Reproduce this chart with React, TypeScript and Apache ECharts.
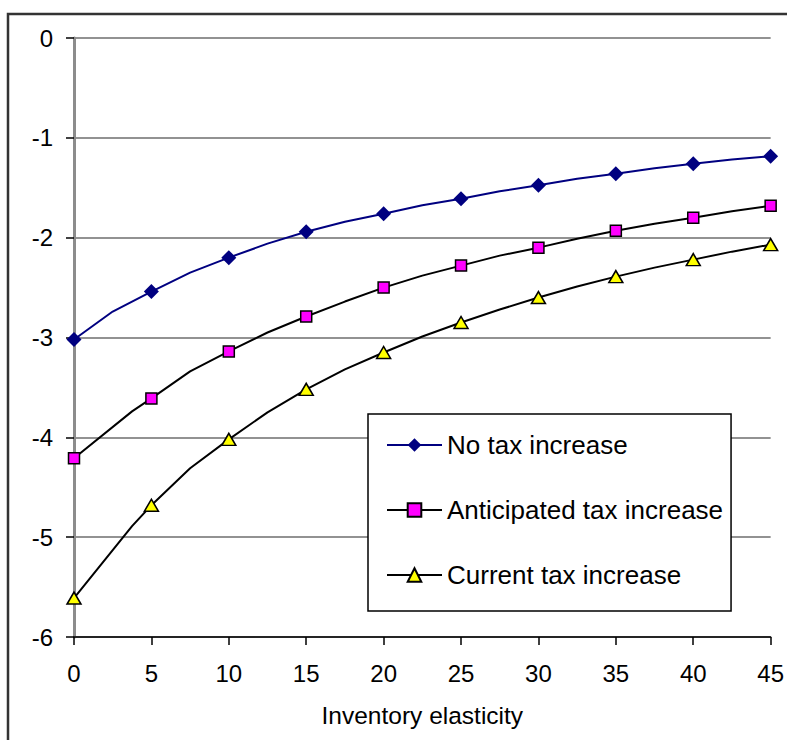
import React, { useEffect, useRef } from "react";
import * as echarts from "echarts";

// Inventory elasticity (x) at which markers are drawn
const elasticity = [0, 5, 10, 15, 20, 25, 30, 35, 40, 45];

// Series values at the marked points
const noTax = [-3.02, -2.54, -2.2, -1.94, -1.76, -1.61, -1.475, -1.36, -1.26, -1.185];
const anticipated = [-4.21, -3.61, -3.14, -2.79, -2.5, -2.28, -2.1, -1.93, -1.8, -1.68];
const current = [-5.61, -4.68, -4.02, -3.52, -3.15, -2.85, -2.6, -2.39, -2.22, -2.07];

// Unmarked intermediate points of each traced curve [x, y]
const noTaxBends = [
  [2.5, -2.74], [7.5, -2.35], [12.5, -2.06], [17.5, -1.84], [22.5, -1.675],
  [27.5, -1.535], [32.5, -1.41], [37.5, -1.305], [42.5, -1.218],
];
const anticipatedBends = [
  [3.75, -3.74], [7.5, -3.34], [12.5, -2.95], [17.5, -2.64], [22.5, -2.38],
  [27.5, -2.18], [32.5, -2.01], [37.5, -1.86], [42.5, -1.735],
];
const currentBends = [
  [3.75, -4.89], [7.5, -4.31], [12.5, -3.75], [17.5, -3.32], [22.5, -2.99],
  [27.5, -2.72], [32.5, -2.49], [37.5, -2.3], [42.5, -2.14],
];

const seriesNames = ["No tax increase", "Anticipated tax increase", "Current tax increase"];
const yTicks = { min: -6, max: 0, interval: 1 };
const xTicks = { min: 0, max: 45, interval: 5 };
const xAxisTitle = "Inventory elasticity";

const FONT = '"Liberation Sans", Arial, sans-serif';

function buildData(values: number[], bends: number[][]) {
  const pts: any[] = [];
  elasticity.forEach((x, i) => pts.push({ value: [x, values[i]] }));
  bends.forEach((b) => pts.push({ value: [b[0], b[1]], symbol: "none" }));
  pts.sort((a, b) => a.value[0] - b.value[0]);
  return pts;
}

export default function App() {
  const ref = useRef<HTMLDivElement>(null);

  useEffect(() => {
    if (!ref.current) return;
    const chart = echarts.init(ref.current, null, { renderer: "svg" });
    chart.setOption({
      animation: false,
      backgroundColor: "#ffffff",
      grid: { left: 74, top: 38, width: 698, height: 599, containLabel: false },
      xAxis: {
        type: "value",
        min: xTicks.min,
        max: xTicks.max,
        interval: xTicks.interval,
        name: xAxisTitle,
        nameLocation: "middle",
        nameGap: 66,
        nameTextStyle: { fontFamily: FONT, fontSize: 24.5, color: "#000" },
        axisLine: { show: true, onZero: false, lineStyle: { color: "#000", width: 1.5 } },
        axisTick: { show: true, inside: false, length: 8, lineStyle: { color: "#000", width: 1.5 } },
        axisLabel: { fontFamily: FONT, fontSize: 24, color: "#000", margin: 24 },
        splitLine: { show: false },
      },
      yAxis: [
        {
          type: "value",
          min: yTicks.min,
          max: yTicks.max,
          interval: yTicks.interval,
          axisLine: { show: true, onZero: false, lineStyle: { color: "#000", width: 1.5 } },
          axisTick: { show: true, inside: false, length: 8, lineStyle: { color: "#000", width: 1.5 } },
          axisLabel: { fontFamily: FONT, fontSize: 24, color: "#000", margin: 21 },
          splitLine: { show: true, lineStyle: { color: "#6e6e6e", width: 1.5 } },
        },
        {
          type: "value",
          position: "right",
          min: yTicks.min,
          max: yTicks.max,
          interval: yTicks.interval,
          axisLine: { show: true, lineStyle: { color: "#8c8c8c", width: 3 } },
          axisTick: { show: false },
          axisLabel: { show: false },
          splitLine: { show: false },
        },
      ],
      legend: {
        orient: "vertical",
        left: 368,
        top: 414,
        data: seriesNames,
        itemWidth: 55,
        itemHeight: 17,
        itemGap: 39,
        padding: [18, 8, 23, 18],
        borderColor: "#000",
        borderWidth: 1.5,
        backgroundColor: "#fff",
        textStyle: { fontFamily: FONT, fontSize: 26, color: "#000" },
      },
      series: [
        {
          name: seriesNames[0],
          type: "line",
          data: buildData(noTax, noTaxBends),
          symbol: "diamond",
          symbolSize: 15,
          showAllSymbol: true,
          itemStyle: { color: "#000080", borderWidth: 0 },
          lineStyle: { color: "#000080", width: 2 },
          z: 3,
        },
        {
          name: seriesNames[1],
          type: "line",
          data: buildData(anticipated, anticipatedBends),
          symbol: "rect",
          symbolSize: 11,
          showAllSymbol: true,
          itemStyle: { color: "#ff00ff", borderColor: "#000", borderWidth: 1.5 },
          lineStyle: { color: "#000", width: 2 },
          z: 3,
        },
        {
          name: seriesNames[2],
          type: "line",
          data: buildData(current, currentBends),
          symbol: "triangle",
          symbolSize: [14, 12],
          showAllSymbol: true,
          itemStyle: { color: "#ffff00", borderColor: "#000", borderWidth: 1.5 },
          lineStyle: { color: "#000", width: 2 },
          z: 3,
        },
      ],
      graphic: [
        {
          type: "rect",
          silent: true,
          z: -1,
          shape: { x: 8, y: 14, width: 800, height: 800 },
          style: { fill: "none", stroke: "#333", lineWidth: 2.5 },
        },
      ],
    });
    return () => chart.dispose();
  }, []);

  return <div ref={ref} style={{ width: 787, height: 740, position: "absolute", left: 0, top: 0 }} />;
}
